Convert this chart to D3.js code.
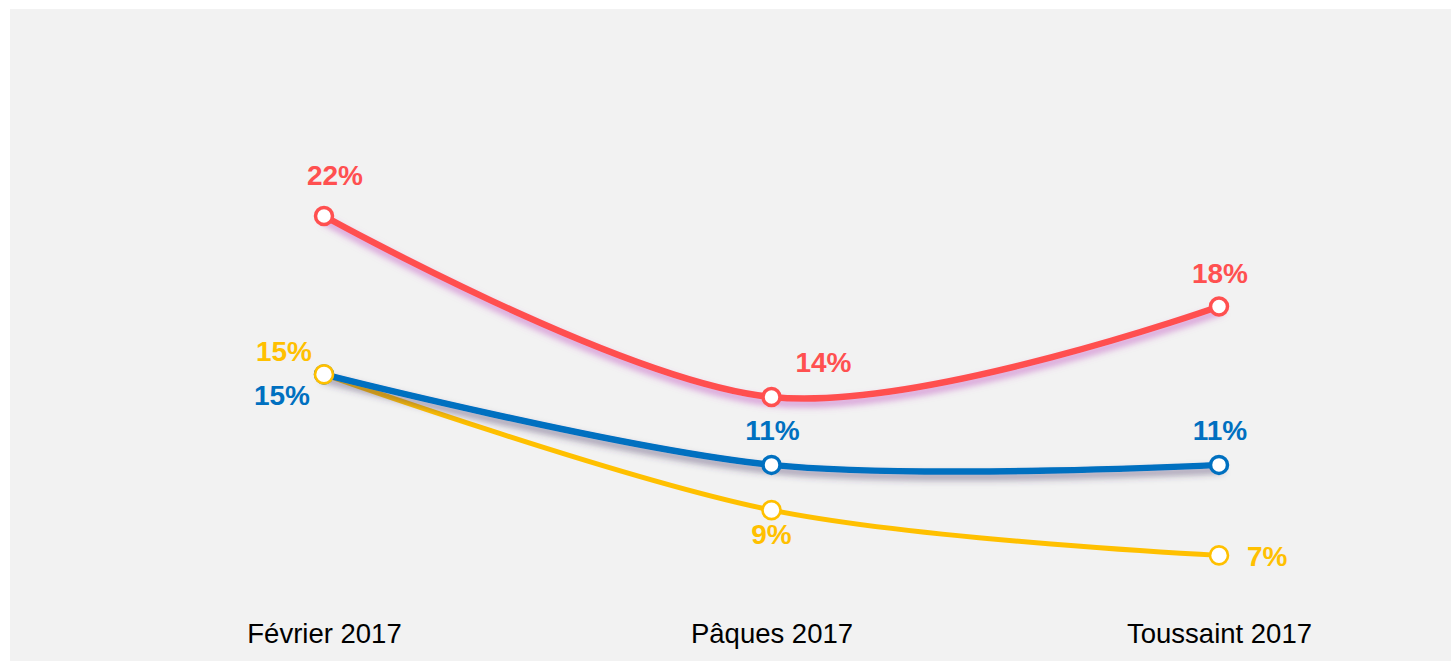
<!DOCTYPE html>
<html><head><meta charset="utf-8">
<script src="https://cdn.jsdelivr.net/npm/d3@7"></script>
<style>
html,body{margin:0;padding:0;background:#fff;}
svg{display:block;}
</style></head>
<body>
<svg id="c" width="1451" height="661"></svg>
<script>
const categories = ["Février 2017", "Pâques 2017", "Toussaint 2017"];
const seriesNames = ["Rouge", "Bleu", "Jaune"];
const redValues = [22, 14, 18];
const blueValues = [15, 11, 11];
const yellowValues = [15, 9, 7];

const W = 1451, H = 661;
const svg = d3.select("#c");

svg.append("rect").attr("x", 10).attr("y", 9).attr("width", W - 10).attr("height", H - 9).attr("fill", "#f2f2f2");

const defs = svg.append("defs");
function shadow(id, color, op) {
  const f = defs.append("filter").attr("id", id).attr("x", "-10%").attr("y", "-30%").attr("width", "120%").attr("height", "160%");
  f.append("feDropShadow").attr("dx", 1).attr("dy", 5).attr("stdDeviation", 3.5)
    .attr("flood-color", color).attr("flood-opacity", op);
}
shadow("shRed", "#c050c0", 0.6);
shadow("shBlue", "#403060", 0.5);

const x = d3.scalePoint().domain(categories).range([324, 1219]).padding(0);
const y = d3.scaleLinear().domain([0, 22]).range([713.75, 216]);

// label layout: [dx from point, baseline dy from point, anchor]
const series = [
  { name: seriesNames[2], values: yellowValues, color: "#ffc000", width: 5, filter: null, mstroke: 2,
    lab: [[-40, -13, "middle"], [0, 34, "middle"], [28, 11, "start"]] },
  { name: seriesNames[1], values: blueValues, color: "#0070c0", width: 6.5, filter: "url(#shBlue)", mstroke: 3.5,
    lab: [[-42, 31, "middle"], [1, -25, "middle"], [1, -25, "middle"]] },
  { name: seriesNames[0], values: redValues, color: "#ff5050", width: 6.5, filter: "url(#shRed)", mstroke: 3.5,
    lab: [[11, -31, "middle"], [52, -25, "middle"], [1, -24, "middle"]] }
];

const line = d3.line()
  .x((d, i) => x(categories[i]))
  .y(d => y(d))
  .curve(d3.curveCardinal.tension(0));

const gLines = svg.append("g");
series.forEach(s => {
  gLines.append("path").datum(s.values)
    .attr("d", line)
    .attr("fill", "none")
    .attr("stroke", s.color)
    .attr("stroke-width", s.width)
    .attr("stroke-linecap", "round")
    .attr("filter", s.filter);
});

const markerOrder = [series[1], series[2], series[0]];
markerOrder.forEach(s => {
  svg.append("g").selectAll("circle").data(s.values).join("circle")
    .attr("cx", (d, i) => x(categories[i]))
    .attr("cy", d => y(d))
    .attr("r", s === series[0] ? 9 : 8.5)
    .attr("fill", "#fff")
    .attr("stroke", s.color)
    .attr("stroke-width", s === series[0] ? 2.6 : s.mstroke);
});

series.forEach(s => {
  svg.append("g").selectAll("text").data(s.values).join("text")
    .attr("x", (d, i) => x(categories[i]) + s.lab[i][0])
    .attr("y", (d, i) => y(d) + s.lab[i][1])
    .attr("text-anchor", (d, i) => s.lab[i][2])
    .attr("font-family", "'Liberation Sans', Arial, sans-serif")
    .attr("font-weight", "bold")
    .attr("font-size", 28)
    .attr("fill", s.color)
    .text(d => d + "%");
});

const axis = d3.axisBottom(x).tickSize(0).tickPadding(0);
const gAxis = svg.append("g").attr("transform", "translate(0,623)").call(axis);
gAxis.select(".domain").remove();
gAxis.selectAll("text")
  .attr("dy", 0).attr("y", 20)
  .attr("font-family", "'Liberation Sans', Arial, sans-serif")
  .attr("font-size", 27.5)
  .attr("fill", "#000");
</script>
</body></html>
